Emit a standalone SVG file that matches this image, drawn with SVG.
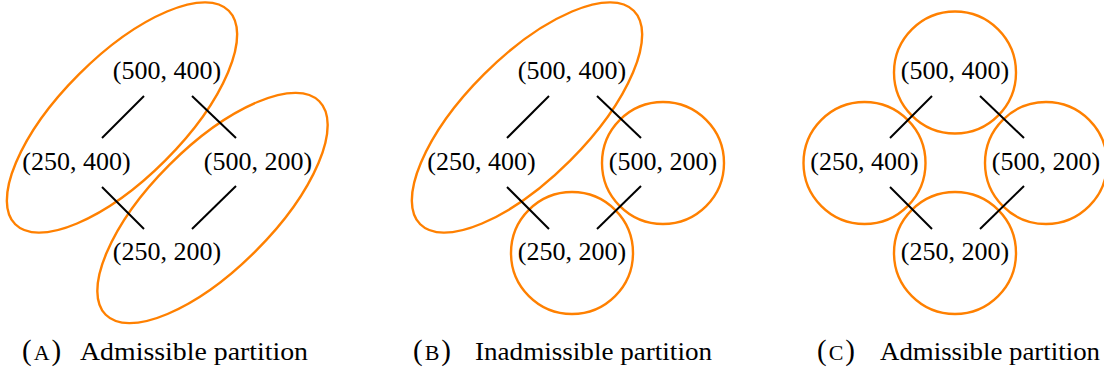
<svg xmlns="http://www.w3.org/2000/svg" width="1104" height="373" viewBox="0 0 1104 373">
<style>
text{font-family:'Liberation Serif','DejaVu Serif',serif}
.lbl{font-size:26px;fill:#000;text-anchor:middle}
.cap{font-size:26px;fill:#000}
.par{font-size:29px}
.sc{font-size:22px}
.part{fill:none;stroke:#FF8000;stroke-width:2.4}
.edge{stroke:#000;stroke-width:2;fill:none}
</style>
<defs>
<g id="edges">
<line x1="144" y1="96" x2="102" y2="138"/>
<line x1="192" y1="96" x2="236" y2="138"/>
<line x1="102" y1="187" x2="144" y2="229"/>
<line x1="236" y1="186" x2="192" y2="229"/>
</g>
</defs>
<!-- Panel A -->
<g id="panelA">
<g id="A-partitions">
<ellipse class="part" cx="122" cy="117.5" rx="151" ry="61" transform="rotate(-45 122 117.5)"/>
<ellipse class="part" cx="212.5" cy="208" rx="151" ry="61" transform="rotate(-45 212.5 208)"/>
</g>
<g id="A-connectors" class="edge"><use href="#edges"/></g>
<g id="A-n500-400"><text class="lbl" x="167" y="79">(500, 400)</text></g>
<g id="A-n250-400"><text class="lbl" x="76.5" y="170">(250, 400)</text></g>
<g id="A-n500-200"><text class="lbl" x="258" y="170">(500, 200)</text></g>
<g id="A-n250-200"><text class="lbl" x="167" y="260">(250, 200)</text></g>
</g>
<!-- Panel B -->
<g id="panelB" transform="translate(405,0)">
<g id="B-partitions">
<ellipse class="part" cx="122" cy="117.5" rx="151" ry="61" transform="rotate(-45 122 117.5)"/>
<circle class="part" cx="258" cy="163" r="61"/>
<circle class="part" cx="167" cy="253" r="61"/>
</g>
<g id="B-connectors" class="edge"><use href="#edges"/></g>
<g id="B-n500-400"><text class="lbl" x="167" y="79">(500, 400)</text></g>
<g id="B-n250-400"><text class="lbl" x="76.5" y="170">(250, 400)</text></g>
<g id="B-n500-200"><text class="lbl" x="258" y="170">(500, 200)</text></g>
<g id="B-n250-200"><text class="lbl" x="167" y="260">(250, 200)</text></g>
</g>
<!-- Panel C -->
<g id="panelC" transform="translate(788,0)">
<g id="C-partitions">
<circle class="part" cx="167" cy="72.5" r="61"/>
<circle class="part" cx="76.5" cy="163" r="61"/>
<circle class="part" cx="258" cy="163" r="61"/>
<circle class="part" cx="167" cy="253" r="61"/>
</g>
<g id="C-connectors" class="edge"><use href="#edges"/></g>
<g id="C-n500-400"><text class="lbl" x="167" y="79">(500, 400)</text></g>
<g id="C-n250-400"><text class="lbl" x="76.5" y="170">(250, 400)</text></g>
<g id="C-n500-200"><text class="lbl" x="258" y="170">(500, 200)</text></g>
<g id="C-n250-200"><text class="lbl" x="167" y="260">(250, 200)</text></g>
</g>
<!-- Captions -->
<g id="captions">
<text class="cap" y="360"><tspan class="par" x="22">(</tspan><tspan class="sc" dx="2">A</tspan><tspan class="par" dx="2">)</tspan><tspan x="80" textLength="228" lengthAdjust="spacingAndGlyphs">Admissible partition</tspan></text>
<text class="cap" y="360"><tspan class="par" x="413">(</tspan><tspan class="sc" dx="2">B</tspan><tspan class="par" dx="2">)</tspan><tspan x="475" textLength="237" lengthAdjust="spacingAndGlyphs">Inadmissible partition</tspan></text>
<text class="cap" y="360"><tspan class="par" x="817">(</tspan><tspan class="sc" dx="2">C</tspan><tspan class="par" dx="2">)</tspan><tspan x="880" textLength="220" lengthAdjust="spacingAndGlyphs">Admissible partition</tspan></text>
</g>
</svg>
